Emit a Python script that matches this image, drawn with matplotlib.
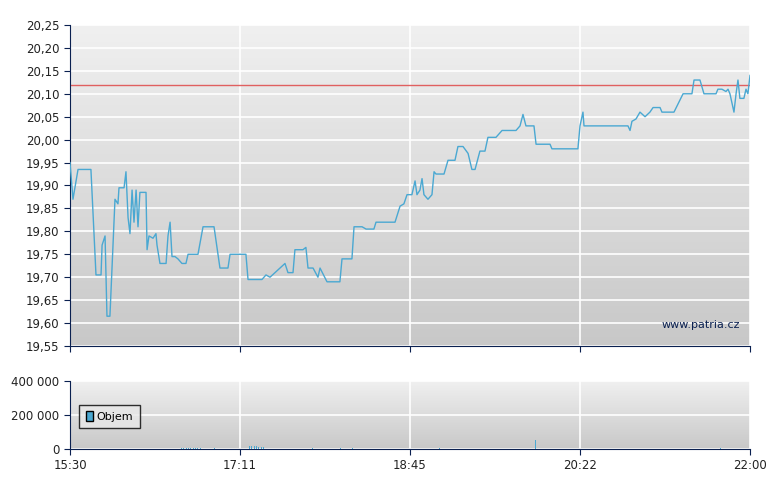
import numpy as np
import matplotlib.pyplot as plt

# (minutes since 15:30, price)
price_points = [
    (0, 19.95), (1.7, 19.87), (4.6, 19.935), (12, 19.935), (13.8, 19.79), (14.9, 19.705),
    (17.8, 19.705), (18.4, 19.77), (20.1, 19.79), (21.2, 19.615), (22.9, 19.615), (24.7, 19.77),
    (25.8, 19.87), (27.5, 19.86), (28.1, 19.895), (31, 19.895), (32.1, 19.93), (33.3, 19.83),
    (34.4, 19.795), (35.6, 19.89), (36.7, 19.82), (37.9, 19.89), (39, 19.81), (40.1, 19.885),
    (43.6, 19.885), (44.2, 19.76), (45.3, 19.79), (47.6, 19.785), (49.3, 19.795), (49.9, 19.77),
    (51.6, 19.73), (55.1, 19.73), (56.2, 19.79), (57.4, 19.82), (58.5, 19.745), (60.2, 19.745),
    (61.9, 19.74), (64.2, 19.73), (66.5, 19.73), (67.7, 19.75), (73.4, 19.75), (76.3, 19.81),
    (82.6, 19.81), (86, 19.72), (90.6, 19.72), (91.8, 19.75), (100.9, 19.75), (102.1, 19.695),
    (110.1, 19.695), (112.4, 19.705), (114.7, 19.70), (123.3, 19.73), (125, 19.71),
    (127.9, 19.71), (129, 19.76), (133.6, 19.76), (135.3, 19.765), (136.5, 19.72),
    (139.4, 19.72), (142.2, 19.70), (143.4, 19.72), (147.4, 19.69), (154.8, 19.69),
    (156, 19.74), (161.7, 19.74), (162.9, 19.81), (167.5, 19.81), (169.8, 19.805),
    (174.3, 19.805), (175.5, 19.82), (186.4, 19.82), (189.3, 19.855), (191.5, 19.86),
    (193.3, 19.88), (196.1, 19.88), (197.9, 19.91), (199, 19.88), (200.7, 19.89),
    (201.9, 19.915), (203, 19.88), (205.3, 19.87), (207.6, 19.88), (208.8, 19.93),
    (209.9, 19.925), (214.5, 19.925), (216.8, 19.955), (220.8, 19.955), (222.5, 19.985),
    (225.4, 19.985), (228.3, 19.97), (230.5, 19.935), (232.3, 19.935), (235.1, 19.975),
    (238, 19.975), (239.7, 20.005), (244.3, 20.005), (247.8, 20.02), (255.8, 20.02),
    (258.1, 20.03), (259.8, 20.055), (261.5, 20.03), (266.1, 20.03), (267.3, 19.99),
    (275.3, 19.99), (276.4, 19.98), (291.3, 19.98), (292.5, 20.03), (294.2, 20.06),
    (294.8, 20.03), (297.1, 20.03), (320, 20.03), (321.2, 20.02), (322.3, 20.04),
    (324.6, 20.045), (326.9, 20.06), (329.8, 20.05), (332.6, 20.06), (334.4, 20.07),
    (338.4, 20.07), (339.5, 20.06), (344.1, 20.06), (346.4, 20.06), (351.6, 20.10),
    (356.7, 20.10), (357.9, 20.13), (361.3, 20.13), (363.6, 20.10), (370.5, 20.10),
    (371.6, 20.11), (373.9, 20.11), (376.2, 20.105), (377.4, 20.11), (378.5, 20.10),
    (380.8, 20.06), (382, 20.10), (383.1, 20.13), (384.2, 20.09), (386.5, 20.09),
    (387.7, 20.11), (388.8, 20.10), (390, 20.14),
]
t = [p[0] for p in price_points]
price = [p[1] for p in price_points]
prev_close = 20.12

vol_t = [47, 64, 65, 66, 67, 68, 69, 70, 71, 72, 73, 75, 83, 103, 104, 105, 106, 107, 108, 109,
         110, 111, 139, 140, 155, 162, 212, 215, 267, 373]
vol = [25000, 8000, 8000, 6000, 8000, 8000, 8000, 8000, 6000, 8000, 8000, 6000, 6000, 15000,
       15000, 15000, 15000, 15000, 12000, 15000, 12000, 12000, 6000, 6000, 5000, 5000, 5000,
       4000, 55000, 6000]

tick_pos = [0, 97.5, 195, 292.5, 390]
tick_lab = ["15:30", "17:11", "18:45", "20:22", "22:00"]
price_ticks = [19.55 + 0.05 * i for i in range(15)]
vol_ticks = [0, 200000, 400000]

navy = "#0a2050"
line_c = "#4aa8d2"

fig = plt.figure(figsize=(7.8, 4.9), dpi=100)
ax = fig.add_axes([70 / 780, 1 - 346 / 490, 680 / 780, 321 / 490])
ax2 = fig.add_axes([70 / 780, 1 - 449 / 490, 680 / 780, 68 / 490])

grad = np.linspace(1, 0, 256).reshape(-1, 1)
cm = plt.matplotlib.colors.LinearSegmentedColormap.from_list("g", ["#c8c8c8", "#f0f0f0"])
for a, lo, hi in [(ax, 19.55, 20.25), (ax2, 0, 400000)]:
    a.imshow(grad, cmap=cm, aspect="auto", extent=[0, 390, lo, hi], zorder=0)
    a.set_xlim(0, 390)
    a.set_ylim(lo, hi)
    a.set_xticks(tick_pos)
    a.grid(True, color="white", linewidth=1.2, zorder=1)
    for s in ["top", "right"]:
        a.spines[s].set_visible(False)
    for s in ["left", "bottom"]:
        a.spines[s].set_color(navy)
    a.tick_params(colors=navy, labelsize=8.5, length=4, direction="out")
    a.tick_params(axis="both", labelcolor="#222222")

ax.set_xticklabels([])
ax.set_yticks(price_ticks)
ax.set_yticklabels([("%.2f" % v).replace(".", ",") for v in price_ticks])
ax.plot(t, price, color=line_c, linewidth=1, zorder=3)
ax.axhline(prev_close, color="#e06060", linewidth=1, zorder=2)
ax.text(0.985, 0.05, "www.patria.cz", transform=ax.transAxes, ha="right", va="bottom",
        fontsize=8, color=navy)

ax2.bar(vol_t, vol, width=0.4, color=line_c, zorder=3, label="Objem")
ax2.set_xticklabels(tick_lab)
ax2.set_yticks(vol_ticks)
ax2.set_yticklabels(["0", "200 000", "400 000"])
leg = ax2.legend(loc="lower left", bbox_to_anchor=(0.005, 0.22), fontsize=8, fancybox=False,
                 handlelength=0.7, handleheight=0.9, borderpad=0.6, handletextpad=0.3)
leg.get_frame().set_edgecolor("black")
leg.get_frame().set_facecolor("#e8e8e8")
for p in leg.get_patches():
    p.set_edgecolor("black")

fig.savefig("out.png")
